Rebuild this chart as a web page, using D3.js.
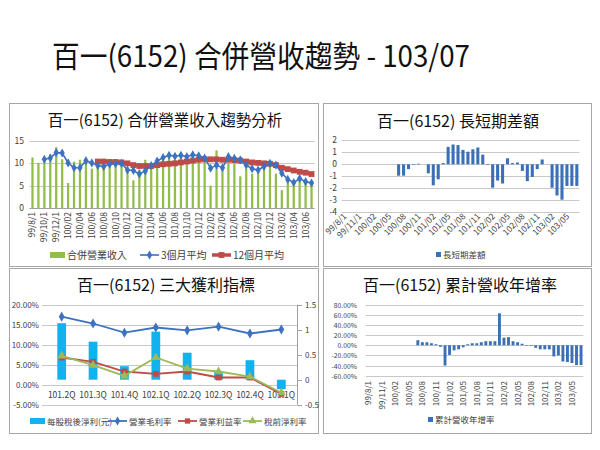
<!DOCTYPE html>
<html><head><meta charset="utf-8">
<script src="https://cdn.jsdelivr.net/npm/d3@7"></script>
<style>body{margin:0;background:#fff}svg{display:block;font-family:"Noto Sans CJK TC","Noto Sans",sans-serif}</style>
</head><body><svg id="c" width="600" height="450"></svg>
<script>
// ---------- DATA ----------
const months = ["99/08","99/09","99/10","99/11","99/12",
 "100/01","100/02","100/03","100/04","100/05","100/06","100/07","100/08","100/09","100/10","100/11","100/12",
 "101/01","101/02","101/03","101/04","101/05","101/06","101/07","101/08","101/09","101/10","101/11","101/12",
 "102/01","102/02","102/03","102/04","102/05","102/06","102/07","102/08","102/09","102/10","102/11","102/12",
 "103/01","103/02","103/03","103/04","103/05","103/06","103/07"];
const revenue = [11.3,10.1,10.7,12.0,13.6,10.9,5.6,10.4,10.8,10.7,8.8,9.9,9.8,9.9,10.3,10.8,9.0,
 6.2,8.6,10.8,9.8,11.0,10.8,11.4,10.8,12.1,10.8,11.8,10.7,11.4,5.0,12.9,8.8,10.1,9.9,7.1,8.8,7.7,8.1,9.6,9.3,
 7.7,4.0,5.9,6.2,6.2,5.5,5.5];
const avg3 = [null,null,10.9,11.2,12.4,12.3,10.1,9.0,9.0,10.6,10.1,9.5,9.3,9.8,9.9,10.0,8.5,8.4,7.6,8.3,9.5,
 10.5,11.3,11.8,11.6,11.8,11.5,11.9,11.7,11.2,8.9,9.6,9.0,11.5,11.1,10.8,9.6,8.8,8.5,9.3,10.0,9.6,7.8,6.4,5.7,6.6,5.9,5.6];
const avg12 = [null,null,null,null,null,null,null,null,null,null,null,10.4,10.4,10.3,10.3,10.2,10.0,9.6,9.4,9.4,9.4,
 9.6,9.8,9.9,10.0,10.2,10.4,10.6,10.8,10.9,10.9,10.9,10.8,10.8,10.7,10.6,10.4,10.2,10.1,10.0,9.9,9.6,9.0,8.7,8.4,8.1,7.9,7.6];
const diffLS = [null,null,null,null,null,null,null,null,null,null,null,
 -0.95,-0.95,-0.4,-0.05,0.05,0,-0.75,-1.75,-1.25,0.1,1.45,1.65,1.6,1.2,1.05,1.25,1.4,0.8,-0.05,-1.95,-1.35,-1.6,
 0.5,0.1,0.15,-0.55,-1.4,-1.05,-0.4,0.4,0,-1.95,-2.6,-2.95,-1.8,-1.8,-1.8];
const cumYoY = [null,null,null,null,null,null,null,null,null,null,null,
 10,6,6,4,2,-3,-40,-19,-10,-8,-4,2,4,4,6,8,8,8,63,15,16,8,6,3,0,-1,-5,-8,-8,-8,-22,-20,-32,-33,-35,-39,-39];
const ticks2m = ["99/8/1","99/10/1","99/12/1","100/02","100/04","100/06","100/08","100/10","100/12","101/02","101/04","101/06",
 "101/08","101/10","101/12","102/02","102/04","102/06","102/08","102/10","102/12","103/02","103/04","103/06"];
const ticks3m = ["99/8/1","99/11/1","100/02","100/05","100/08","100/11","101/02","101/05","101/08","101/11","102/02","102/05",
 "102/08","102/11","103/02","103/05"];
const quarters = ["101.2Q","101.3Q","101.4Q","102.1Q","102.2Q","102.3Q","102.4Q","103.1Q"];
const eps = [1.13,0.76,0.27,0.96,0.54,0.17,0.39,-0.19];
const grossMargin = [17.0,15.3,13.0,14.3,13.6,14.5,12.8,13.8];
const opMargin = [6.8,5.7,3.3,2.7,3.3,1.8,1.8,-2.3];
const pretaxMargin = [7.2,4.9,2.2,6.8,4.0,3.3,2.0,-2.0];

// ---------- DRAW ----------
const svg = d3.select("#c");
svg.append("rect").attr("width",600).attr("height",450).attr("fill","#fff");
const GRID="#c8c8c8", TXT="#404040", BLUE="#3b6fb6", GREEN="#92bd4a", LBLUE="#3d72c0", RED="#be4b48", CYAN="#12b2ee", OLIVE="#9bbb59";

svg.append("text").attr("x",52).attr("y",67).attr("textLength",418).attr("lengthAdjust","spacingAndGlyphs")
  .attr("font-size",30).attr("fill","#111").text("百一(6152) 合併營收趨勢 - 103/07");

// panels
[[9,103,309,163],[323,103,268,163],[9,268,309,165],[323,268,268,165]].forEach(p=>{
  svg.append("rect").attr("x",p[0]+0.5).attr("y",p[1]+0.5).attr("width",p[2]).attr("height",p[3])
    .attr("fill","#fff").attr("stroke","#a6a6a6").attr("stroke-width",1);
});
function title(x,y,t,fs){
  svg.append("text").attr("x",x).attr("y",y).attr("text-anchor","middle").attr("font-size",fs).attr("fill","#111").text(t);
}
function hgrid(g,vals,y,x0,x1,col){
  g.selectAll(null).data(vals).join("line").attr("x1",x0).attr("x2",x1)
   .attr("y1",d=>Math.round(y(d))+0.5).attr("y2",d=>Math.round(y(d))+0.5).attr("stroke",col||GRID).attr("stroke-width",1);
}
function ylabels(g,vals,y,x,fmt,anchor,fs){
  g.selectAll(null).data(vals).join("text").attr("x",x).attr("y",d=>y(d)+3).attr("text-anchor",anchor||"end")
   .attr("font-size",fs||8.5).attr("fill",TXT).text(fmt);
}
const sym = (type,size)=>d3.symbol().type(type).size(size)();

// ===== Chart 1 =====
{
  const g = svg.append("g");
  title(165,126,"百一(6152) 合併營業收入趨勢分析",15.5);
  const x = d3.scaleBand().domain(months).range([29.5,314.5]).paddingInner(0.62).paddingOuter(0.31);
  const cx = d=>x(d)+x.bandwidth()/2;
  const y = d3.scaleLinear().domain([0,15]).range([208,141]);
  hgrid(g,[5,10,15],y,29.5,314.5);
  hgrid(g,[0],y,29.5,314.5,"#a0a0a0");
  ylabels(g,[0,5,10,15],y,24,d=>d);
  g.selectAll(null).data(months).join("rect").attr("x",d=>x(d)).attr("width",x.bandwidth())
    .attr("y",(d,i)=>y(revenue[i])).attr("height",(d,i)=>y(0)-y(revenue[i])).attr("fill",GREEN);
  const tv = months.filter((d,i)=>i%2===0);
  g.selectAll(null).data(tv).join("text").attr("transform",d=>`translate(${cx(d)+3},212) rotate(-90)`)
    .attr("text-anchor","end").attr("font-size",8.5).attr("fill",TXT).text((d,i)=>ticks2m[i]);
  const pts12 = months.map((m,i)=>[m,avg12[i]]).filter(d=>d[1]!=null);
  g.append("path").attr("d",d3.line().x(d=>cx(d[0])).y(d=>y(d[1]))(pts12)).attr("fill","none").attr("stroke",RED).attr("stroke-width",3.5);
  g.selectAll(null).data(pts12).join("path").attr("d",sym(d3.symbolSquare,34))
    .attr("transform",d=>`translate(${cx(d[0])},${y(d[1])})`).attr("fill",RED);
  const pts3 = months.map((m,i)=>[m,avg3[i]]).filter(d=>d[1]!=null);
  g.append("path").attr("d",d3.line().x(d=>cx(d[0])).y(d=>y(d[1]))(pts3)).attr("fill","none").attr("stroke",LBLUE).attr("stroke-width",1.6);
  g.selectAll(null).data(pts3).join("path").attr("d",sym(d3.symbolDiamond,24))
    .attr("transform",d=>`translate(${cx(d[0])},${y(d[1])})`).attr("fill",LBLUE);
  // legend
  g.append("rect").attr("x",50).attr("y",252).attr("width",15).attr("height",6).attr("fill",GREEN);
  g.append("text").attr("x",67).attr("y",259).attr("font-size",10).attr("fill",TXT).text("合併營業收入");
  g.append("line").attr("x1",140).attr("x2",159).attr("y1",255).attr("y2",255).attr("stroke",LBLUE).attr("stroke-width",1.6);
  g.append("path").attr("d",sym(d3.symbolDiamond,24)).attr("transform","translate(149.5,255)").attr("fill",LBLUE);
  g.append("text").attr("x",161).attr("y",259).attr("font-size",10).attr("fill",TXT).text("3個月平均");
  g.append("line").attr("x1",212).attr("x2",231).attr("y1",255).attr("y2",255).attr("stroke",RED).attr("stroke-width",3.5);
  g.append("path").attr("d",sym(d3.symbolSquare,34)).attr("transform","translate(221.5,255)").attr("fill",RED);
  g.append("text").attr("x",233).attr("y",259).attr("font-size",10).attr("fill",TXT).text("12個月平均");
}

// ===== Chart 2 =====
{
  const g = svg.append("g");
  title(458,127,"百一(6152) 長短期差額",16);
  const x = d3.scaleBand().domain(months).range([341.7,579.3]).paddingInner(0.38).paddingOuter(0.19);
  const cx = d=>x(d)+x.bandwidth()/2;
  const y = d3.scaleLinear().domain([-4,2]).range([212.3,140.3]);
  hgrid(g,[-4,-3,-2,-1,0,1,2],y,341.7,579.3);
  ylabels(g,[-4,-3,-2,-1,0,1,2],y,337,d=>d);
  const pts = months.map((m,i)=>[m,diffLS[i]]).filter(d=>d[1]!=null);
  g.selectAll(null).data(pts).join("rect").attr("x",d=>x(d[0])).attr("width",x.bandwidth())
    .attr("y",d=>y(Math.max(0,d[1]))).attr("height",d=>Math.abs(y(d[1])-y(0))).attr("fill",BLUE);
  const tv = months.filter((d,i)=>i%3===0);
  g.selectAll(null).data(tv).join("text").attr("transform",d=>`translate(${cx(d)+3},217) rotate(-45)`)
    .attr("text-anchor","end").attr("font-size",8.5).attr("fill",TXT).text((d,i)=>ticks3m[i]);
  g.append("rect").attr("x",436).attr("y",252).attr("width",5).attr("height",5).attr("fill",BLUE);
  g.append("text").attr("x",443).attr("y",258).attr("font-size",8.5).attr("fill",TXT).text("長短期差額");
}

// ===== Chart 3 =====
{
  const g = svg.append("g");
  title(166,291,"百一(6152) 三大獲利指標",16);
  const x = d3.scaleBand().domain(quarters).range([46,297]).paddingInner(0.72).paddingOuter(0.36);
  const cx = d=>x(d)+x.bandwidth()/2;
  const yL = d3.scaleLinear().domain([-5,20]).range([404.7,304.7]);
  const yR = d3.scaleLinear().domain([-0.5,1.5]).range([404.7,304.7]);
  hgrid(g,[-5,0,5,10,15,20],yL,42,297);
  ylabels(g,[-5,0,5,10,15,20],yL,39,d=>d.toFixed(2)+"%","end",8);
  g.append("line").attr("x1",297.5).attr("x2",297.5).attr("y1",304.7).attr("y2",404.7).attr("stroke","#a0a0a0");
  g.selectAll(null).data([-0.5,0,0.5,1,1.5]).join("line").attr("x1",297.5).attr("x2",302)
    .attr("y1",d=>Math.round(yR(d))+0.5).attr("y2",d=>Math.round(yR(d))+0.5).attr("stroke","#a0a0a0");
  ylabels(g,[-0.5,0,0.5,1,1.5],yR,305,d=>d,"start",8);
  g.selectAll(null).data(quarters).join("rect").attr("x",d=>x(d)).attr("width",x.bandwidth())
    .attr("y",(d,i)=>yR(Math.max(0,eps[i]))).attr("height",(d,i)=>Math.abs(yR(eps[i])-yR(0))).attr("fill",CYAN);
  g.selectAll(null).data(quarters).join("text").attr("x",cx).attr("y",398).attr("text-anchor","middle")
    .attr("font-size",8.5).attr("fill",TXT).text(d=>d);
  const series = [[grossMargin,LBLUE,d3.symbolDiamond,30],[opMargin,RED,d3.symbolSquare,34],[pretaxMargin,OLIVE,d3.symbolTriangle,34]];
  series.forEach(([vals,col,type,sz])=>{
    g.append("path").attr("d",d3.line().x((d,i)=>cx(quarters[i])).y(d=>yL(d))(vals)).attr("fill","none").attr("stroke",col).attr("stroke-width",1.8);
    g.selectAll(null).data(vals).join("path").attr("d",sym(type,sz))
      .attr("transform",(d,i)=>`translate(${cx(quarters[i])},${yL(d)})`).attr("fill",col);
  });
  // legend
  g.append("rect").attr("x",30).attr("y",418).attr("width",15).attr("height",6).attr("fill",CYAN);
  g.append("text").attr("x",47).attr("y",425).attr("font-size",8.5).attr("fill",TXT).text("每股稅後淨利(元)");
  const leg=[[108,"營業毛利率",LBLUE,d3.symbolDiamond,24],[178,"營業利益率",RED,d3.symbolSquare,28],[243,"稅前淨利率",OLIVE,d3.symbolTriangle,28]];
  leg.forEach(([lx,t,col,type,sz])=>{
    g.append("line").attr("x1",lx).attr("x2",lx+19).attr("y1",421).attr("y2",421).attr("stroke",col).attr("stroke-width",1.8);
    g.append("path").attr("d",sym(type,sz)).attr("transform",`translate(${lx+9.5},421)`).attr("fill",col);
    g.append("text").attr("x",lx+21).attr("y",425).attr("font-size",8.5).attr("fill",TXT).text(t);
  });
}

// ===== Chart 4 =====
{
  const g = svg.append("g");
  title(460,291,"百一(6152) 累計營收年增率",16);
  const x = d3.scaleBand().domain(months).range([365.7,583.3]).paddingInner(0.36).paddingOuter(0.18);
  const cx = d=>x(d)+x.bandwidth()/2;
  const y = d3.scaleLinear().domain([-60,80]).range([375.7,304.7]);
  const tk = [-60,-40,-20,0,20,40,60,80];
  hgrid(g,tk,y,365.7,583.3);
  ylabels(g,tk,y,357,d=>d.toFixed(2)+"%","end",6.8);
  const pts = months.map((m,i)=>[m,cumYoY[i]]).filter(d=>d[1]!=null);
  g.selectAll(null).data(pts).join("rect").attr("x",d=>x(d[0])).attr("width",x.bandwidth())
    .attr("y",d=>y(Math.max(0,d[1]))).attr("height",d=>Math.max(0.6,Math.abs(y(d[1])-y(0)))).attr("fill",BLUE);
  const tv = months.filter((d,i)=>i%3===0);
  g.selectAll(null).data(tv).join("text").attr("transform",d=>`translate(${cx(d)+3},381) rotate(-90)`)
    .attr("text-anchor","end").attr("font-size",8).attr("fill",TXT).text((d,i)=>ticks3m[i]);
  g.append("rect").attr("x",428).attr("y",417).attr("width",5).attr("height",5).attr("fill",BLUE);
  g.append("text").attr("x",435).attr("y",423).attr("font-size",8.5).attr("fill",TXT).text("累計營收年增率");
}
</script></body></html>
